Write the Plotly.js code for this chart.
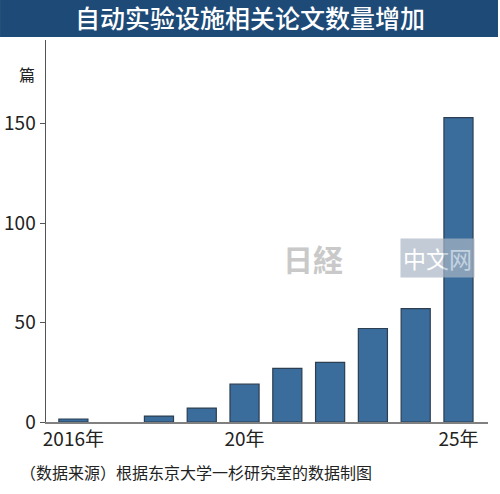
<!DOCTYPE html>
<html>
<head>
<meta charset="utf-8">
<script src="https://cdn.plot.ly/plotly-3.0.1.min.js"></script>
<style>html,body{margin:0;padding:0;background:#fff;}#chart{width:500px;height:494px;}</style>
</head>
<body>
<div id="chart"></div>
<script>
const years = [2016, 2017, 2018, 2019, 2020, 2021, 2022, 2023, 2024, 2025];
const papers = [1.5, 0, 3, 7, 19, 27, 30, 47, 57, 153];
const xTickVals = [2016, 2020, 2025];
const xTickText = ["2016年", "20年", "25年"];
const yTickVals = [0, 50, 100, 150];
const titleText = "自动实验设施相关论文数量增加";
const unitText = "篇";
const sourceText = "（数据来源）根据东京大学一杉研究室的数据制图";

const FONT = '"Noto Sans CJK SC", "Noto Sans", sans-serif';

const trace = {
  type: 'bar',
  x: years,
  y: papers,
  marker: { color: '#3b6d9c', line: { color: '#2b3e52', width: papers.map(v => v > 0 ? 1.2 : 0) } },
  hoverinfo: 'x+y'
};

const layout = {
  width: 500, height: 494,
  margin: { l: 46, r: 12, t: 40, b: 72 },
  paper_bgcolor: '#ffffff', plot_bgcolor: '#ffffff',
  bargap: 0.32,
  showlegend: false,
  font: { family: FONT, color: '#222' },
  title: {
    text: titleText,
    font: { family: FONT, size: 25, color: '#ffffff', weight: 500 },
    xref: 'container', x: 0.5, xanchor: 'center',
    yref: 'container', y: 1 - 19 / 494, yanchor: 'middle'
  },
  xaxis: {
    range: [2015.36, 2025.69],
    tickvals: xTickVals, ticktext: xTickText,
    showline: true, linecolor: '#808080', linewidth: 1.5,
    ticks: '', showgrid: false, zeroline: false,
    tickfont: { family: FONT, size: 19, color: '#222' },
    fixedrange: true
  },
  yaxis: {
    range: [0, 192],
    tickvals: yTickVals,
    showline: true, linecolor: '#555', linewidth: 1.5,
    ticks: 'outside', ticklen: 5, tickcolor: '#555', tickwidth: 1,
    showgrid: false, zeroline: false,
    tickfont: { family: FONT, size: 19, color: '#222' },
    fixedrange: true
  },
  shapes: [{
    type: 'rect', xref: 'paper', yref: 'paper',
    x0: -0.104, x1: 1.0226, y0: 1.0079, y1: 1.1047,
    fillcolor: '#1d4a77', line: { width: 0 }, layer: 'above'
  }],
  annotations: [
    { text: unitText, xref: 'paper', yref: 'paper', x: (27 - 46) / 442, y: (422 - 74) / 382,
      showarrow: false, xanchor: 'center', yanchor: 'middle',
      font: { family: FONT, size: 16, color: '#222' } },
    { text: sourceText, xref: 'paper', yref: 'paper', x: (18 - 46) / 442, y: (422 - 472) / 382,
      showarrow: false, xanchor: 'left', yanchor: 'middle',
      font: { family: FONT, size: 16, color: '#222' } },
    { text: '日経', xref: 'paper', yref: 'paper', x: (313 - 46) / 442, y: (422 - 258) / 382,
      showarrow: false, xanchor: 'center', yanchor: 'middle', opacity: 0.75,
      font: { family: FONT, size: 30, color: '#b8b8b8', weight: 'bold' } },
    { text: '中文网', xref: 'paper', yref: 'paper', x: (437 - 46) / 442, y: (422 - 258) / 382,
      showarrow: false, xanchor: 'center', yanchor: 'middle', opacity: 0.7,
      bgcolor: '#aab6c6', borderpad: 2,
      font: { family: FONT, size: 23, color: '#ffffff' } }
  ]
};

Plotly.newPlot('chart', [trace], layout, { displayModeBar: false, staticPlot: true });
</script>
</body>
</html>
